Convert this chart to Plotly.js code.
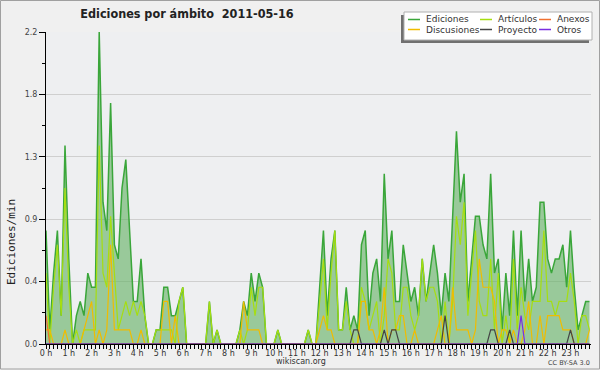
<!DOCTYPE html>
<html><head><meta charset="utf-8">
<script src="https://cdn.plot.ly/plotly-3.0.1.min.js"></script>
<style>html,body{margin:0;padding:0;background:#f0f0f0}#chart{width:600px;height:370px}</style>
</head><body><div id="chart"></div>
<script>
// Edits per minute, 10-minute bins (144 bins = 24 h)
const ediciones = [
0.8,0.1,0.5,0.8,0.2,1.4,0.6,0.0,0.2,0.3,0.2,0.5,
0.4,0.4,2.2,1.0,0.8,1.7,0.7,0.6,1.1,1.3,0.8,0.3,
0.3,0.6,0.2,0.0,0.0,0.1,0.1,0.4,0.4,0.2,0.2,0.3,
0.4,0.0,0.0,0.0,0.0,0.0,0.0,0.3,0.0,0.1,0.0,0.0,
0.0,0.0,0.0,0.1,0.3,0.2,0.5,0.3,0.5,0.4,0.0,0.0,
0.0,0.1,0.0,0.0,0.0,0.0,0.0,0.0,0.0,0.1,0.0,0.0,
0.4,0.8,0.2,0.6,0.8,0.1,0.1,0.4,0.1,0.2,0.1,0.7,
0.8,0.2,0.5,0.6,0.3,1.2,0.6,0.8,0.3,0.3,0.7,0.5,
0.3,0.4,0.2,0.6,0.3,0.5,0.7,0.5,0.2,0.5,0.3,0.9,
1.5,1.0,1.2,0.3,0.6,0.9,0.9,0.7,0.6,1.2,0.5,0.6,
0.1,0.5,0.2,0.8,0.2,0.8,0.3,0.6,0.3,0.4,1.0,1.0,
0.6,0.5,0.6,0.6,0.7,0.4,0.8,0.4,0.1,0.2,0.3,0.3
];
const articulos = [
0.5,0.0,0.4,0.7,0.2,1.1,0.4,0.0,0.1,0.0,0.1,0.1,
0.1,0.1,1.4,0.5,0.4,0.9,0.5,0.1,0.2,0.3,0.2,0.3,
0.2,0.3,0.2,0.0,0.0,0.1,0.1,0.1,0.1,0.1,0.0,0.3,
0.4,0.0,0.0,0.0,0.0,0.0,0.0,0.3,0.0,0.1,0.0,0.0,
0.0,0.0,0.0,0.1,0.0,0.1,0.4,0.2,0.4,0.4,0.0,0.0,
0.0,0.1,0.0,0.0,0.0,0.0,0.0,0.0,0.0,0.1,0.0,0.0,
0.3,0.6,0.1,0.5,0.8,0.1,0.1,0.3,0.1,0.0,0.0,0.4,
0.3,0.1,0.2,0.3,0.0,0.2,0.6,0.5,0.1,0.1,0.4,0.4,
0.2,0.1,0.2,0.6,0.3,0.4,0.4,0.3,0.0,0.3,0.0,0.3,
0.9,0.7,1.0,0.2,0.5,0.8,0.3,0.2,0.2,0.6,0.1,0.5,
0.0,0.2,0.0,0.6,0.1,0.4,0.2,0.1,0.3,0.3,0.3,0.8,
0.3,0.3,0.2,0.3,0.3,0.3,0.5,0.3,0.0,0.2,0.2,0.1
];
const discusiones = [
0.1,0.1,0,0,0,0.1,0,0,0,0,0.1,0.2,
0.3,0,0.1,0,0.1,0.7,0.1,0.1,0.1,0.1,0.1,0,
0,0.1,0,0,0,0,0,0.3,0.3,0,0.2,0,
0,0,0,0,0,0,0,0,0,0,0,0,
0,0,0,0,0.3,0.1,0.1,0.1,0.1,0,0,0,
0,0,0,0,0,0,0,0,0,0,0,0,
0.1,0.2,0.1,0.1,0,0,0,0,0,0,0,0.3,
0.3,0.1,0.1,0,0.1,0.4,0,0.1,0.1,0.2,0.2,0,
0,0.1,0,0,0,0,0,0.1,0.2,0,0,0.4,
0.1,0.1,0.1,0.1,0,0.1,0.6,0.4,0.4,0.4,0.3,0,
0.1,0.1,0,0.1,0,0,0.1,0.3,0,0,0.2,0,
0.2,0.2,0.2,0.2,0.1,0.1,0.1,0,0,0,0,0.1
];
const anexos = [
0.2,0,0,0,0,0,0,0,0,0,0,0,
0,0,0,0,0,0,0,0,0,0,0,0,
0,0,0,0,0,0,0,0,0,0,0,0,
0,0,0,0,0,0,0,0,0,0,0,0,
0,0,0,0,0,0,0,0,0,0,0,0,
0,0,0,0,0,0,0,0,0,0,0,0,
0,0,0,0,0,0,0,0,0,0,0,0,
0,0,0,0,0,0,0,0,0,0,0,0,
0,0,0,0,0,0,0,0,0,0,0,0,
0,0,0,0,0,0,0,0,0,0,0,0,
0,0,0,0,0,0,0,0,0,0,0,0,
0,0,0,0,0,0,0,0,0,0,0,0
];
const proyecto = [
0,0,0,0,0,0,0,0,0,0,0,0,
0,0,0,0,0,0,0,0,0,0,0,0,
0,0,0,0,0,0,0,0,0,0,0,0,
0,0,0,0,0,0,0,0,0,0,0,0,
0,0,0,0,0,0,0,0,0,0,0,0,
0,0,0,0,0,0,0,0,0,0,0,0,
0,0,0,0,0,0,0,0,0,0.1,0.1,0,
0,0,0,0,0,0.1,0,0.1,0.1,0,0,0,
0,0,0,0,0,0,0,0,0,0.2,0,0,
0,0,0,0,0,0,0,0,0,0.1,0.1,0,
0,0,0.1,0,0,0,0,0,0,0,0,0,
0,0,0,0,0,0,0.1,0,0,0,0,0
];
const otros = [
0,0,0,0,0,0,0,0,0,0,0,0,
0,0,0,0,0,0,0,0,0,0,0,0,
0,0,0,0,0,0,0,0,0,0,0,0,
0,0,0,0,0,0,0,0,0,0,0,0,
0,0,0,0,0,0,0,0,0,0,0,0,
0,0,0,0,0,0,0,0,0,0,0,0,
0,0,0,0,0,0,0,0,0,0,0,0,
0,0,0,0,0,0,0,0,0,0,0,0,
0,0,0,0,0,0,0,0,0,0,0,0,
0,0,0,0,0,0,0,0,0,0,0,0,
0,0,0,0,0,0.2,0,0,0,0,0,0,
0,0,0,0,0,0,0,0,0,0,0,0
];
const yTickVals = [0, 0.44, 0.88, 1.32, 1.76, 2.2];
const yTickText = ['0.0', '0.4', '0.9', '1.3', '1.8', '2.2'];
const yMinorVals = [0.22, 0.66, 1.1, 1.54, 1.98];
const seriesNames = ['Ediciones', 'Artículos', 'Anexos', 'Discusiones', 'Proyecto', 'Otros'];
const seriesColors = ['#3aa63a', '#a6de10', '#f07030', '#f0bc00', '#444444', '#7a2ee0'];

const hours = ediciones.map((_, i) => i / 6);

const L = 46, R = 591, T = 32, B = 344;
const px = x => (x - L) / (R - L);
const py = y => (B - y) / (B - T);

function line(y, name, color, width) {
  return {x: hours, y: y, type: 'scatter', mode: 'lines', name: name,
    line: {color: color, width: width || 1.2}, showlegend: false, hoverinfo: 'skip'};
}
const ed = line(ediciones, 'Ediciones', seriesColors[0], 1.5);
ed.fill = 'tozeroy';
ed.fillcolor = 'rgba(100,178,100,0.62)';
const data = [
  ed,
  line(articulos, 'Artículos', seriesColors[1]),
  line(discusiones, 'Discusiones', seriesColors[3]),
  line(anexos, 'Anexos', seriesColors[2]),
  line(proyecto, 'Proyecto', seriesColors[4]),
  line(otros, 'Otros', seriesColors[5])
];

const shapes = [
  {type: 'rect', xref: 'paper', yref: 'paper', x0: px(0.5), x1: px(599.5), y0: py(0.5), y1: py(369), line: {color: '#a0a0a0', width: 1}, fillcolor: 'rgba(0,0,0,0)', layer: 'below'},
  {type: 'rect', xref: 'paper', yref: 'paper', x0: px(401), x1: px(589), y0: py(15), y1: py(43), line: {width: 0}, fillcolor: '#707070', layer: 'above'},
  {type: 'rect', xref: 'paper', yref: 'paper', x0: px(404), x1: px(592), y0: py(12), y1: py(40), line: {color: '#b0b0b0', width: 1}, fillcolor: '#ffffff', layer: 'above'}
];
const annotations = [];
const colX = [408, 480, 539];
const rowY = [19.5, 29.5];
seriesNames.forEach((n, k) => {
  const c = k % 3, r = Math.floor(k / 3);
  shapes.push({type: 'line', xref: 'paper', yref: 'paper', x0: px(colX[c]), x1: px(colX[c] + 12), y0: py(rowY[r]), y1: py(rowY[r]), line: {color: seriesColors[k], width: 1.5}, layer: 'above'});
  annotations.push({xref: 'paper', yref: 'paper', x: px(colX[c] + 16), y: py(rowY[r]), xanchor: 'left', yanchor: 'middle', showarrow: false, text: n, font: {family: 'DejaVu Sans', size: 9, color: '#333'}});
});
annotations.push(
  {xref: 'paper', yref: 'paper', x: px(11), y: py(242), textangle: -90, showarrow: false, text: 'Ediciones/min', font: {family: 'DejaVu Sans Mono', size: 11, color: '#222'}, xanchor: 'center', yanchor: 'middle'},
  {xref: 'paper', yref: 'paper', x: px(301), y: py(361.5), showarrow: false, text: 'wikiscan.org', font: {family: 'DejaVu Sans', size: 8, color: '#333'}, xanchor: 'center', yanchor: 'middle'},
  {xref: 'paper', yref: 'paper', x: px(569), y: py(362.5), showarrow: false, text: 'CC BY-SA 3.0', font: {family: 'DejaVu Sans', size: 6.5, color: '#444'}, xanchor: 'center', yanchor: 'middle'}
);

const layout = {
  width: 600, height: 370,
  margin: {l: L, r: 600 - R, t: T, b: 370 - B, pad: 0},
  paper_bgcolor: '#f0f0f0', plot_bgcolor: '#eeeff1',
  showlegend: false,
  title: {text: 'Ediciones por ámbito\u00a0 2011-05-16', font: {family: 'DejaVu Sans Condensed, DejaVu Sans', size: 12.5, color: '#222', weight: 'bold'},
    x: 187 / 600, xanchor: 'center', xref: 'container', y: 1 - 14 / 370, yanchor: 'middle', yref: 'container'},
  xaxis: {range: [0, 23.9], tickmode: 'linear', tick0: 0, dtick: 1, ticksuffix: ' h',
    ticks: 'outside', ticklen: 4, tickcolor: '#000', tickwidth: 1,
    showline: true, linecolor: '#000', linewidth: 1, showgrid: false, zeroline: false,
    tickfont: {family: 'DejaVu Sans', size: 8, color: '#333'}, ticklabelstandoff: -3,
    minor: {tickmode: 'linear', tick0: 0, dtick: 1 / 6, ticks: 'outside', ticklen: 4, tickcolor: '#000', tickwidth: 1, showgrid: false},
    fixedrange: true},
  yaxis: {range: [0, 2.2], tickmode: 'array', tickvals: yTickVals, ticktext: yTickText,
    ticks: 'outside', ticklen: 6, tickcolor: '#000', tickwidth: 1,
    showline: true, linecolor: '#000', linewidth: 1, showgrid: true, gridcolor: '#cfcfcf', gridwidth: 1, zeroline: false,
    tickfont: {family: 'DejaVu Sans', size: 8, color: '#444'},
    minor: {tickmode: 'array', tickvals: yMinorVals, ticks: 'outside', ticklen: 3, tickcolor: '#000', tickwidth: 1, showgrid: false},
    fixedrange: true},
  shapes: shapes,
  annotations: annotations
};
Plotly.newPlot('chart', data, layout, {displayModeBar: false, staticPlot: true});
</script>
</body></html>
